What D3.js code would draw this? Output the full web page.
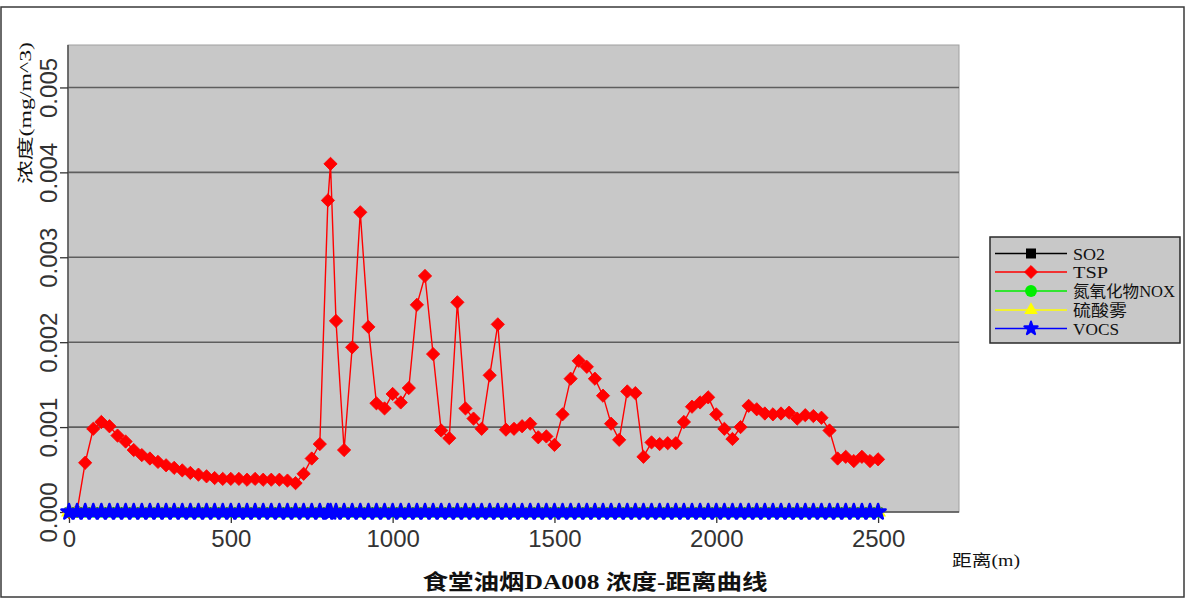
<!DOCTYPE html>
<html>
<head>
<meta charset="utf-8">
<script src="https://cdn.jsdelivr.net/npm/d3@7"></script>
<style>
  html, body { margin: 0; padding: 0; background: #ffffff; }
  svg { display: block; }
</style>
</head>
<body>
<svg id="chart" width="1187" height="599"></svg>
<script>
// Downwind distance (m); 808 m is the point of maximum concentration
const distances = [
  0, 25, 50, 75, 100, 125, 150, 175, 200, 225, 250, 275, 300, 325, 350, 375, 400, 425, 450, 475,
  500, 525, 550, 575, 600, 625, 650, 675, 700, 725, 750, 775, 800, 808, 825, 850, 875, 900, 925, 950,
  975, 1000, 1025, 1050, 1075, 1100, 1125, 1150, 1175, 1200, 1225, 1250, 1275, 1300, 1325, 1350, 1375, 1400, 1425, 1450,
  1475, 1500, 1525, 1550, 1575, 1600, 1625, 1650, 1675, 1700, 1725, 1750, 1775, 1800, 1825, 1850, 1875, 1900, 1925, 1950,
  1975, 2000, 2025, 2050, 2075, 2100, 2125, 2150, 2175, 2200, 2225, 2250, 2275, 2300, 2325, 2350, 2375, 2400, 2425, 2450,
  2475, 2500
];

// TSP concentration (mg/m^3)
const tspValues = [
  0, 0.00001, 0.00058, 0.00098, 0.00106, 0.00101, 0.00090, 0.00083, 0.00073, 0.00067, 0.00063, 0.00059, 0.00055, 0.00052, 0.00049, 0.00046, 0.00044, 0.00042, 0.00040, 0.00039,
  0.00039, 0.00039, 0.00038, 0.00039, 0.00038, 0.00038, 0.00038, 0.00037, 0.00034, 0.00045, 0.00063, 0.00080, 0.00367, 0.00410, 0.00225, 0.00073, 0.00194, 0.00353, 0.00218, 0.00128,
  0.00122, 0.00139, 0.00129, 0.00146, 0.00244, 0.00278, 0.00186, 0.00096, 0.00087, 0.00247, 0.00122, 0.00110, 0.00098, 0.00161, 0.00221, 0.00097, 0.00098, 0.00101, 0.00104, 0.00088,
  0.00089, 0.00079, 0.00115, 0.00157, 0.00178, 0.00171, 0.00157, 0.00137, 0.00104, 0.00085, 0.00142, 0.00140, 0.00065, 0.00082, 0.00080, 0.00081, 0.00081, 0.00106, 0.00124, 0.00129,
  0.00135, 0.00115, 0.00098, 0.00086, 0.00100, 0.00125, 0.00121, 0.00116, 0.00115, 0.00116, 0.00117, 0.00110, 0.00114, 0.00113, 0.00111, 0.00096, 0.00063, 0.00065, 0.00060, 0.00065,
  0.00060, 0.00062
];

// The other pollutants stay at zero over the whole range
const so2Values = distances.map(() => 0);
const noxValues = distances.map(() => 0);
const acidMistValues = distances.map(() => 0);
const vocsValues = distances.map(() => 0);

const seriesNames = ["SO2", "TSP", "氮氧化物NOX", "硫酸雾", "VOCS"];
const seriesColors = ["#000000", "#ff0000", "#00ee00", "#ffff00", "#0000ff"];
const xTicks = [0, 500, 1000, 1500, 2000, 2500];
const yTicks = [0, 0.001, 0.002, 0.003, 0.004, 0.005];

const titleText = "食堂油烟DA008 浓度-距离曲线";
const xTitle = "距离(m)";
const yTitle = "浓度(mg/m^3)";

const svg = d3.select("#chart");

// outer frame
svg.append("rect")
  .attr("x", 1).attr("y", 7).attr("width", 1183).attr("height", 590)
  .attr("fill", "none").attr("stroke", "#3a3a3a").attr("stroke-width", 1.5);

const plot = { left: 68, top: 45, right: 959, bottom: 512 };

const x = d3.scaleLinear().domain([0, 2750]).range([69, 959]);
const y = d3.scaleLinear().domain([0, 0.0055]).range([plot.bottom, plot.top]);

// plot background
svg.append("rect")
  .attr("x", plot.left).attr("y", plot.top)
  .attr("width", plot.right - plot.left).attr("height", plot.bottom - plot.top)
  .attr("fill", "#c8c8c8").attr("stroke", "#a0a0a0").attr("stroke-width", 1);

// horizontal grid lines
svg.append("g")
  .selectAll("line")
  .data(yTicks.filter(d => d > 0))
  .join("line")
  .attr("x1", plot.left).attr("x2", plot.right)
  .attr("y1", d => y(d)).attr("y2", d => y(d))
  .attr("stroke", "#5e5e5e").attr("stroke-width", 1.6);

// axis lines (left and bottom)
svg.append("line")
  .attr("x1", plot.left).attr("x2", plot.left)
  .attr("y1", plot.top).attr("y2", plot.bottom)
  .attr("stroke", "#505050").attr("stroke-width", 1.5);
svg.append("line")
  .attr("x1", plot.left).attr("x2", plot.right)
  .attr("y1", plot.bottom).attr("y2", plot.bottom)
  .attr("stroke", "#505050").attr("stroke-width", 1.5);

// y axis ticks and labels
const yAxis = d3.axisLeft(y).tickValues(yTicks).tickSize(8).tickFormat(d3.format(".3f"));
const yg = svg.append("g").attr("transform", `translate(${plot.left},0)`).call(yAxis);
yg.select(".domain").remove();
yg.selectAll(".tick line").attr("stroke", "#333").attr("stroke-width", 1.3);
yg.selectAll(".tick text")
  .attr("x", 0).attr("dy", 0)
  .attr("transform", "translate(-11,0) rotate(-90)")
  .attr("text-anchor", "middle")
  .attr("font-family", "'Liberation Sans', Arial, sans-serif")
  .attr("font-size", 24)
  .attr("fill", "#333");

// x axis ticks and labels
const xAxis = d3.axisBottom(x).tickValues(xTicks).tickSize(11).tickPadding(6).tickFormat(d3.format("d"));
const xg = svg.append("g").attr("transform", `translate(0,${plot.bottom})`).call(xAxis);
xg.select(".domain").remove();
xg.selectAll(".tick line").attr("stroke", "#333").attr("stroke-width", 1.3);
xg.selectAll(".tick text")
  .attr("y", 35).attr("dy", 0)
  .attr("font-family", "'Liberation Sans', Arial, sans-serif")
  .attr("font-size", 24)
  .attr("fill", "#333");

// marker shapes
const symbolFor = [
  d3.symbol().type(d3.symbolSquare).size(80),
  d3.symbol().type(d3.symbolSquare).size(88),
  d3.symbol().type(d3.symbolCircle).size(100),
  d3.symbol().type(d3.symbolTriangle).size(110),
  d3.symbol().type(d3.symbolStar).size(70)
];
const markerRotate = [0, 45, 0, 0, 0];
const markerStroke = [0, 0.8, 0, 0, 2.6];

const seriesValues = [so2Values, tspValues, noxValues, acidMistValues, vocsValues];

const line = d3.line().x(d => x(d[0])).y(d => y(d[1]));

seriesValues.forEach((vals, i) => {
  const pts = distances.map((d, k) => [d, vals[k]]);
  const g = svg.append("g");
  g.append("path")
    .attr("d", line(pts))
    .attr("fill", "none")
    .attr("stroke", seriesColors[i])
    .attr("stroke-width", 1.4);
  g.selectAll("path.m")
    .data(pts)
    .join("path")
    .attr("class", "m")
    .attr("d", symbolFor[i]())
    .attr("transform", d => `translate(${x(d[0])},${y(d[1])}) rotate(${markerRotate[i]})`)
    .attr("fill", seriesColors[i])
    .attr("stroke", markerStroke[i] > 0 ? seriesColors[i] : "none")
    .attr("stroke-width", markerStroke[i])
    .attr("stroke-linejoin", "round");
});

// legend
const legend = { x: 990, y: 237, w: 190, h: 106 };
svg.append("rect")
  .attr("x", legend.x).attr("y", legend.y)
  .attr("width", legend.w).attr("height", legend.h)
  .attr("fill", "#c8c8c8").attr("stroke", "#2a2a2a").attr("stroke-width", 1.5);

const legendSymbols = [
  d3.symbol().type(d3.symbolSquare).size(100),
  d3.symbol().type(d3.symbolSquare).size(84),
  d3.symbol().type(d3.symbolCircle).size(110),
  d3.symbol().type(d3.symbolTriangle).size(80),
  d3.symbol().type(d3.symbolStar).size(55)
];
const legendRowY = [253.5, 272, 291, 310, 328.5];
const legendTextLen = [32, 35, 102, 54, 46];

seriesNames.forEach((name, i) => {
  const cy = legendRowY[i];
  svg.append("line")
    .attr("x1", 995).attr("x2", 1067).attr("y1", cy).attr("y2", cy)
    .attr("stroke", seriesColors[i]).attr("stroke-width", 1.6);
  svg.append("path")
    .attr("d", legendSymbols[i]())
    .attr("transform", `translate(1031,${cy}) rotate(${markerRotate[i]})`)
    .attr("fill", seriesColors[i])
    .attr("stroke", markerStroke[i] > 0 ? seriesColors[i] : "none")
    .attr("stroke-width", Math.min(markerStroke[i], 2))
    .attr("stroke-linejoin", "round");
  svg.append("text")
    .attr("x", 1073).attr("y", cy + 6)
    .attr("font-family", "'Liberation Serif', 'Noto Sans CJK SC', serif")
    .attr("font-size", 16)
    .attr("textLength", legendTextLen[i])
    .attr("lengthAdjust", "spacingAndGlyphs")
    .attr("fill", "#111")
    .text(name);
});

// titles
svg.append("text")
  .attr("x", 595).attr("y", 589)
  .attr("text-anchor", "middle")
  .attr("font-family", "'Liberation Serif', 'Noto Sans CJK SC', serif")
  .attr("font-weight", "bold")
  .attr("font-size", 21)
  .attr("textLength", 345)
  .attr("lengthAdjust", "spacingAndGlyphs")
  .attr("fill", "#111")
  .text(titleText);

svg.append("text")
  .attr("x", 952).attr("y", 566)
  .attr("font-family", "'Liberation Serif', 'Noto Sans CJK SC', serif")
  .attr("font-size", 16)
  .attr("textLength", 68)
  .attr("lengthAdjust", "spacingAndGlyphs")
  .attr("fill", "#111")
  .text(xTitle);

svg.append("text")
  .attr("transform", "translate(31,113) rotate(-90)")
  .attr("text-anchor", "middle")
  .attr("font-family", "'Liberation Serif', 'Noto Sans CJK SC', serif")
  .attr("font-size", 16)
  .attr("textLength", 142)
  .attr("lengthAdjust", "spacingAndGlyphs")
  .attr("fill", "#111")
  .text(yTitle);
</script>
</body>
</html>
